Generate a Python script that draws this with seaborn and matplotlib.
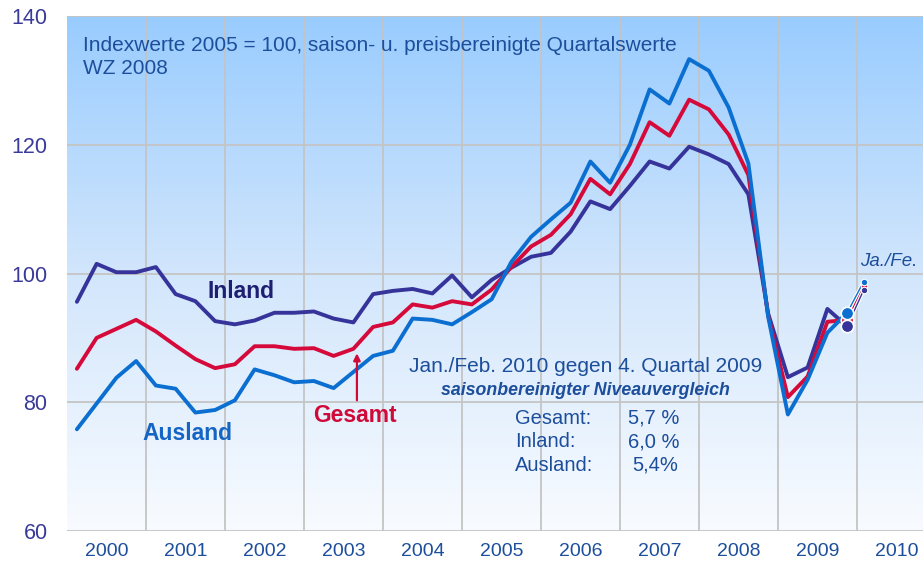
import numpy as np
import pandas as pd
import matplotlib
matplotlib.use("Agg")
import matplotlib.pyplot as plt
import matplotlib.patheffects as pe
from matplotlib.colors import LinearSegmentedColormap
import seaborn as sns

# Quarterly index values 2000 Q1 .. 2009 Q4 (2005 = 100)
years = list(range(2000, 2010))
inland = [95.6, 101.5, 100.2, 100.2,
          101.0, 96.8, 95.7, 92.6,
          92.1, 92.7, 93.9, 93.9,
          94.1, 93.0, 92.4, 96.8,
          97.3, 97.6, 96.9, 99.7,
          96.3, 99.0, 100.9, 102.6,
          103.2, 106.5, 111.2, 110.0,
          113.6, 117.4, 116.3, 119.7,
          118.5, 117.0, 112.3, 93.8,
          83.9, 85.4, 94.5, 91.8]
gesamt = [85.2, 90.0, 91.4, 92.8,
          91.0, 88.8, 86.7, 85.3,
          85.9, 88.7, 88.7, 88.3,
          88.4, 87.2, 88.3, 91.7,
          92.4, 95.2, 94.7, 95.7,
          95.2, 97.5, 101.0, 104.2,
          106.0, 109.2, 114.7, 112.3,
          117.0, 123.5, 121.4, 127.0,
          125.5, 121.6, 115.3, 93.5,
          80.8, 84.0, 92.5, 92.8]
ausland = [75.8, 79.8, 83.8, 86.4,
           82.6, 82.1, 78.4, 78.8,
           80.3, 85.1, 84.2, 83.1,
           83.3, 82.2, 84.7, 87.2,
           88.0, 93.0, 92.8, 92.1,
           94.0, 96.0, 101.8, 105.7,
           108.4, 111.0, 117.4, 114.1,
           120.0, 128.6, 126.4, 133.3,
           131.5, 125.8, 117.1, 93.3,
           78.1, 83.5, 90.8, 93.9]
# Jan./Feb. 2010 values
janfeb = {"Ausland": 98.7, "Gesamt": 98.1, "Inland": 97.4}
year_labels = [str(y) for y in range(2000, 2011)]

colors = {"Ausland": "#0A6FD0", "Gesamt": "#D5093A", "Inland": "#36349A"}
txt_blue = "#1C4E9C"

quarters = [y + (q + 0.5) / 4 for y in years for q in range(4)]
df = pd.DataFrame({
    "x": quarters * 3,
    "wert": ausland + gesamt + inland,
    "reihe": ["Ausland"] * 40 + ["Gesamt"] * 40 + ["Inland"] * 40,
})

sns.set_theme(style="white")
plt.rcParams["font.family"] = ["Liberation Sans", "DejaVu Sans"]

fig = plt.figure(figsize=(9.23, 5.63), dpi=100)
ax = fig.add_axes([67 / 923, 1 - 531 / 563, 1 - 67 / 923, (531 - 16) / 563])
xmax = 2000 + (923 - 67) / 79

# background gradient
cmap = LinearSegmentedColormap.from_list("bg", ["#F8FBFF", "#D2E6FC", "#99CCFF"])
ax.imshow(np.linspace(0, 1, 256).reshape(-1, 1), extent=[2000, xmax, 60, 140],
          origin="lower", aspect="auto", cmap=cmap, zorder=0)

sns.lineplot(data=df, x="x", y="wert", hue="reihe", palette=colors,
             hue_order=["Inland", "Gesamt", "Ausland"], linewidth=2.8,
             legend=False, ax=ax, zorder=3)

# 4th quarter 2009 dots and Jan./Feb. extension
last = {"Ausland": ausland[-1], "Gesamt": gesamt[-1], "Inland": inland[-1]}
xq4 = quarters[-1]
xjf = 2010 + 1 / 12
for name, z in [("Gesamt", 5), ("Ausland", 6), ("Inland", 6)]:
    ax.plot([xq4, xjf], [last[name], janfeb[name]], color=colors[name], lw=1.0,
            zorder=4, path_effects=[pe.Stroke(linewidth=2.6, foreground="white"), pe.Normal()])
    ax.scatter([xq4], [last[name]], s=80, color=colors[name], edgecolor="white",
               linewidth=1.2, zorder=z)
    ax.scatter([xjf], [janfeb[name]], s=22, color=colors[name], edgecolor="white",
               linewidth=0.8, zorder=z)

ax.set_xlim(2000, xmax)
ax.set_ylim(60, 140)
ax.set_xticks([y + 0.5 for y in range(2000, 2011)])
ax.set_xticklabels(year_labels)
ax.set_xticks(range(2001, 2011), minor=True)
ax.set_yticks([60, 80, 100, 120, 140])
ax.tick_params(axis="x", which="both", length=0, labelsize=14, labelcolor=txt_blue, pad=9)
ax.tick_params(axis="y", length=0, labelsize=15.5, labelcolor="#3A3A9A", pad=14)
ax.set_axisbelow(True)
ax.grid(True, axis="x", which="minor", color="#C4C4C4", lw=1.3)
ax.grid(True, axis="y", which="major", color="#C4C4C4", lw=1.3)
ax.grid(False, axis="x", which="major")
for s in ax.spines.values():
    s.set_visible(False)
ax.set_xlabel("")
ax.set_ylabel("")

# texts
ax.text(2000.2, 135.4, "Indexwerte 2005 = 100, saison- u. preisbereinigte Quartalswerte",
        fontsize=15, color=txt_blue, va="center", ha="left", zorder=6)
ax.text(2000.2, 131.8, "WZ 2008", fontsize=15, color=txt_blue, va="center", ha="left", zorder=6)

ax.text(2002.2, 97.2, "Inland", fontsize=16.5, fontweight="bold", color="#1E1E72",
        ha="center", va="center", zorder=6)
ax.text(2001.53, 75.2, "Ausland", fontsize=16.5, fontweight="bold", color="#1566C4",
        ha="center", va="center", zorder=6)
ax.text(2003.65, 78.0, "Gesamt", fontsize=16.5, fontweight="bold", color="#D00A38",
        ha="center", va="center", zorder=6)
ax.annotate("", xy=(2003.67, 87.6), xytext=(2003.67, 80.3),
            arrowprops=dict(arrowstyle="-|>", color="#D00A38", lw=1.6,
                            mutation_scale=10, shrinkA=0, shrinkB=0), zorder=6)

ax.text(2006.56, 85.6, "Jan./Feb. 2010 gegen 4. Quartal 2009", fontsize=15,
        color=txt_blue, ha="center", va="center", zorder=6)
ax.text(2006.56, 81.8, "saisonbereinigter Niveauvergleich", fontsize=12.8,
        fontweight="bold", fontstyle="italic", color=txt_blue, ha="center", va="center", zorder=6)
rows = [("Gesamt:", "5,7 %", 77.5), ("Inland:", "6,0 %", 73.9), ("Ausland:", "5,4%", 70.2)]
for lab, val, yy in rows:
    ax.text(2005.67, yy, lab, fontsize=14.5, color=txt_blue, ha="left", va="center", zorder=6)
    ax.text(2007.1 if val != "5,4%" else 2007.15, yy, val, fontsize=14.5, color=txt_blue,
            ha="left", va="center", zorder=6)

ax.text(2010.04, 101.9, "Ja./Fe.", fontsize=13.5, fontstyle="italic", color=txt_blue,
        ha="left", va="center", zorder=6)

fig.savefig("out.png", dpi=100)
